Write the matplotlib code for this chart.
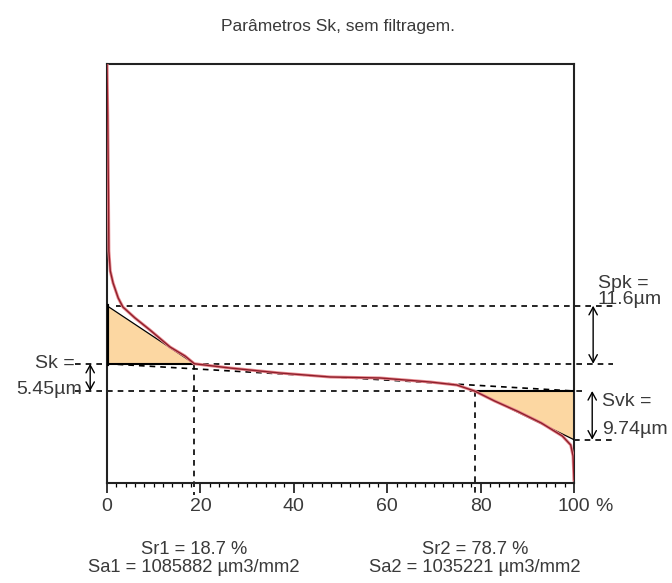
import matplotlib
matplotlib.use("Agg")
import matplotlib.pyplot as plt
import numpy as np

plt.rcParams['font.family'] = ['Liberation Sans', 'DejaVu Sans']

# ---- data ----
title = "Parâmetros Sk, sem filtragem."
curve_x = [0, 0.15, 0.3, 0.4, 0.7, 1.3, 2.4, 3.4, 6.0, 9.2, 13.5, 16.7, 18.7,
           26.3, 37.0, 47.8, 58.5, 69.2, 74.9, 78.7, 83.0, 88.0, 93.0, 97.5,
           99.3, 99.8, 100]
curve_y = [65.4, 55, 40, 28, 24, 21.6, 18.6, 16.8, 14.6, 12.2, 8.8, 7.0, 5.45,
           4.6, 3.6, 2.8, 2.6, 1.8, 1.2, 0.0, -2.0, -4.1, -6.4, -9.0,
           -10.8, -13.0, -17.8]
Sk = 5.45
Spk = 11.6
Svk = 9.74
Sr1 = 18.7
Sr2 = 78.7
Sa1 = 1085882
Sa2 = 1035221
xticks = [0, 20, 40, 60, 80, 100]

# ---- figure ----
W, H = 672, 583
fig = plt.figure(figsize=(W / 100, H / 100), dpi=100)
ax = fig.add_axes([107 / W, 100 / H, 467 / W, 419 / H])
ax.set_xlim(0, 100)
ax.set_ylim(-18.4, 65.4)

txtc = '#3a3a3a'
orange = '#FCD7A2'
fs = 14

top_core = Sk
bot_core = 0.0
spk_top = top_core + Spk
svk_bot = bot_core - Svk

# triangles
ax.fill([0, 0, Sr1], [spk_top, top_core, top_core], color=orange, zorder=1, lw=0)
ax.fill([Sr2, 100, 100], [bot_core, bot_core, svk_bot], color=orange, zorder=1, lw=0)

dash = (0, (3.4, 3.0))
kw = dict(color='black', lw=1.2, ls=dash, clip_on=False, zorder=2)
# horizontal dashed lines
ax.plot([2, 108.3], [spk_top, spk_top], **kw)
ax.plot([-6.9, 108.3], [top_core, top_core], **kw)
ax.plot([-6.9, 102.5], [bot_core, bot_core], **kw)
ax.plot([100, 108.3], [svk_bot, svk_bot], **kw)
# equivalent straight line
ax.plot([0, 100], [top_core, bot_core], **kw)
# vertical dashed lines
ax.plot([Sr1, Sr1], [top_core, -20.8], **kw)
ax.plot([Sr2, Sr2], [bot_core, -20.8], **kw)

# solid triangle edges
ax.plot([0, Sr1], [top_core, top_core], color='black', lw=1.5, zorder=3)
ax.plot([0, 0], [top_core, spk_top], color='black', lw=3, zorder=3)
ax.plot([0, Sr1], [spk_top, top_core], color='black', lw=0.9, zorder=3)
ax.plot([Sr2, 100], [bot_core, bot_core], color='black', lw=1.5, zorder=3)
ax.plot([Sr2, 100], [bot_core, svk_bot], color='black', lw=0.9, zorder=3)

# curve
ax.plot(curve_x, curve_y, color='#E88A90', lw=2.2, zorder=4)
ax.plot(curve_x, curve_y, color='#8E1F2B', lw=1.0, zorder=5)

# arrows
akw = dict(arrowstyle='<->,head_length=0.55,head_width=0.3', color='black', lw=1.0,
           shrinkA=0, shrinkB=0, mutation_scale=10)
ax.annotate('', xy=(104.1, spk_top), xytext=(104.1, top_core), arrowprops=akw,
            annotation_clip=False)
ax.annotate('', xy=(-3.6, top_core), xytext=(-3.6, bot_core), arrowprops=akw,
            annotation_clip=False)
ax.annotate('', xy=(103.9, bot_core), xytext=(103.9, svk_bot), arrowprops=akw,
            annotation_clip=False)

# parameter texts
ax.text(105.1, 21.6, "Spk =", ha='left', va='center', fontsize=fs, color=txtc, clip_on=False)
ax.text(105.1, 18.2, f"{Spk}µm", ha='left', va='center', fontsize=fs, color=txtc, clip_on=False)
ax.text(-6.9, 5.4, "Sk =", ha='right', va='center', fontsize=fs, color=txtc, clip_on=False)
ax.text(-5.3, 0.2, f"{Sk}µm", ha='right', va='center', fontsize=fs, color=txtc, clip_on=False)
ax.text(106.0, -2.2, "Svk =", ha='left', va='center', fontsize=fs, color=txtc, clip_on=False)
ax.text(106.0, -7.6, f"{Svk}µm", ha='left', va='center', fontsize=fs, color=txtc, clip_on=False)

# axes styling
for s in ax.spines.values():
    s.set_linewidth(1.5)
    s.set_color('#222222')
ax.set_yticks([])
ax.set_xticks(xticks)
ax.set_xticklabels([str(t) for t in xticks], fontsize=fs, color=txtc)
ax.set_xticks(np.arange(0, 101, 2), minor=True)
ax.tick_params(axis='x', which='major', length=7, width=1.1, direction='out', pad=4)
ax.tick_params(axis='x', which='minor', length=3, width=0.9, direction='out')
ax.annotate("%", xy=(100, 0), xycoords=('data', 'axes fraction'),
            xytext=(15, -11), textcoords='offset points', ha='left', va='top',
            fontsize=fs, color=txtc, annotation_clip=False)

# title
fig.text(338 / W, 1 - 27 / H, title, ha='center', va='center', fontsize=12.5, color=txtc)

# bottom texts
fsb = 13.2
fig.text(194 / W, 1 - 549 / H, f"Sr1 = {Sr1} %", ha='center', va='center', fontsize=fsb, color=txtc)
fig.text(194 / W, 1 - 568 / H, f"Sa1 = {Sa1} µm3/mm2", ha='center', va='center', fontsize=fsb, color=txtc)
fig.text(475 / W, 1 - 549 / H, f"Sr2 = {Sr2} %", ha='center', va='center', fontsize=fsb, color=txtc)
fig.text(475 / W, 1 - 568 / H, f"Sa2 = {Sa2} µm3/mm2", ha='center', va='center', fontsize=fsb, color=txtc)

fig.savefig("out.png", dpi=100)
